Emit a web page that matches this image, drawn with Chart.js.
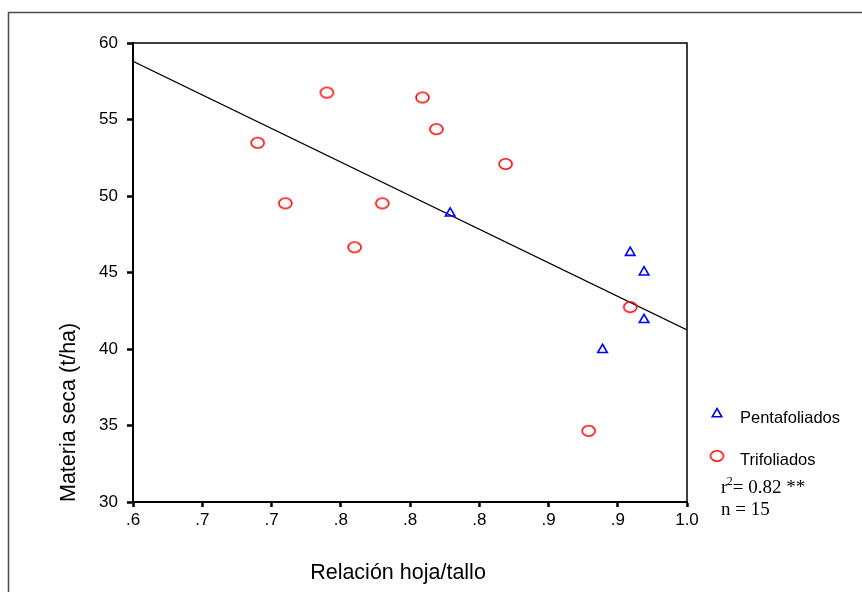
<!DOCTYPE html>
<html>
<head>
<meta charset="utf-8">
<script src="https://cdn.jsdelivr.net/npm/chart.js@4/dist/chart.umd.min.js"></script>
<style>
  html, body { margin: 0; padding: 0; background: #fff; }
</style>
</head>
<body>
<canvas id="myChart" width="862" height="592"></canvas>
<script>
// tick labels as printed on the x axis (.60 .65 ... 1.00 rounded to one decimal)
var xTickLabels = ['.6', '.7', '.7', '.8', '.8', '.8', '.9', '.9', '1.0'];

var pentaX = [0.829, 0.959, 0.969, 0.969, 0.939];
var pentaY = [48.87, 46.30, 45.02, 41.91, 39.95];

var trifX = [0.690, 0.710, 0.740, 0.760, 0.780, 0.809, 0.819, 0.869, 0.959, 0.929];
var trifY = [53.48, 49.52, 56.76, 46.65, 49.52, 56.44, 54.37, 52.09, 42.74, 34.65];

// fitted line end points
var regX = [0.6, 1.0];
var regY = [58.8, 41.25];

var seriesNames = ['Pentafoliados', 'Trifoliados'];
var xTitle = 'Relación hoja/tallo';

toPoints = (xs, ys) => xs.map((x, i) => ({x: x, y: ys[i]}));

// red "O" marker, a bit wider than tall
var ring = document.createElement('canvas');
ring.width = 17;
ring.height = 14;
var rc = ring.getContext('2d');
rc.strokeStyle = '#ff0000';
rc.lineWidth = 1.6;
rc.beginPath();
rc.ellipse(8.5, 7, 6.5, 5.2, 0, 0, Math.PI * 2);
rc.stroke();

var extras = {
  id: 'extras',
  beforeDraw: function (chart) {
    var c = chart.ctx;
    c.save();
    c.strokeStyle = '#4d4d4d';
    c.lineWidth = 1.5;
    c.strokeRect(8.5, 12.5, 900, 700);
    c.restore();
  },
  afterDraw: function (chart) {
    var c = chart.ctx;
    var a = chart.chartArea;
    c.save();
    // top and right sides of the plot box
    c.strokeStyle = '#000';
    c.lineWidth = 1.5;
    c.beginPath();
    c.moveTo(a.left, a.top);
    c.lineTo(a.right, a.top);
    c.lineTo(a.right, a.bottom);
    c.stroke();

    // x axis title, sits a little left of the plot centre
    c.fillStyle = '#000';
    c.font = '21.5px "Liberation Sans", Arial, sans-serif';
    c.textAlign = 'center';
    c.textBaseline = 'middle';
    c.fillText(xTitle, 398, 573);

    // legend
    c.strokeStyle = '#0000ff';
    c.fillStyle = 'rgba(0,0,0,0)';
    c.lineWidth = 1.6;
    Chart.helpers.drawPoint(c, {pointStyle: 'triangle', radius: 5.5, rotation: 0, borderWidth: 1.6}, 717, 414);
    c.drawImage(ring, 717 - ring.width / 2, 456 - ring.height / 2);

    c.fillStyle = '#000';
    c.font = '16.5px "Liberation Sans", Arial, sans-serif';
    c.textBaseline = 'middle';
    c.textAlign = 'left';
    c.fillText(seriesNames[0], 740, 418);
    c.fillText(seriesNames[1], 740, 460);

    // r squared and n
    c.textBaseline = 'alphabetic';
    var serif = '"Liberation Serif", "Times New Roman", serif';
    var x = 721;
    c.font = '19px ' + serif;
    c.fillText('r', x, 493);
    x += c.measureText('r').width;
    c.font = '12px ' + serif;
    c.fillText('2', x - 0.5, 485);
    x += c.measureText('2').width - 0.5;
    c.font = '19px ' + serif;
    c.fillText('= 0.82 **', x, 493);
    c.fillText('n = 15', 721, 515);
    c.restore();
  }
};

const ctx = document.getElementById('myChart');

var chart = new Chart(ctx, {
  type: 'scatter',
  data: {
    datasets: [{
      label: 'Ajuste',
      data: toPoints(regX, regY),
      showLine: true,
      borderColor: '#000',
      borderWidth: 1.2,
      pointRadius: 0,
      fill: false,
      order: 3
    }, {
      label: seriesNames[0],
      data: toPoints(pentaX, pentaY),
      pointStyle: 'triangle',
      pointRadius: 5.5,
      borderColor: '#0000ff',
      backgroundColor: 'rgba(0,0,0,0)',
      borderWidth: 1.6,
      order: 1
    }, {
      label: seriesNames[1],
      data: toPoints(trifX, trifY),
      pointStyle: ring,
      pointRadius: 7,
      borderColor: '#ff0000',
      backgroundColor: 'rgba(0,0,0,0)',
      order: 2
    }]
  },
  options: {
    responsive: false,
    animation: false,
    devicePixelRatio: 1,
    layout: {
      padding: {left: 0, top: 43, right: 175, bottom: 0}
    },
    plugins: {
      legend: {display: false},
      tooltip: {enabled: false}
    },
    scales: {
      x: {
        type: 'linear',
        min: 0.6,
        max: 1.0,
        afterFit: function (s) { s.height = 90; },
        ticks: {
          stepSize: 0.05,
          color: '#000',
          padding: 3,
          maxRotation: 0,
          font: {family: '"Liberation Sans", Arial, sans-serif', size: 17},
          callback: function (v, i) { return xTickLabels[i]; }
        },
        grid: {
          drawOnChartArea: false,
          tickLength: 5,
          tickWidth: 2.5,
          tickColor: '#000'
        },
        border: {display: true, color: '#000', width: 2}
      },
      y: {
        min: 30,
        max: 60,
        afterFit: function (s) { s.width = 133; },
        ticks: {
          stepSize: 5,
          color: '#000',
          padding: 9,
          font: {family: '"Liberation Sans", Arial, sans-serif', size: 17}
        },
        grid: {
          drawOnChartArea: false,
          tickLength: 6,
          tickWidth: 2.5,
          tickColor: '#000'
        },
        border: {display: true, color: '#000', width: 2},
        title: {
          display: true,
          text: 'Materia seca (t/ha)',
          align: 'start',
          color: '#000',
          font: {family: '"Liberation Sans", Arial, sans-serif', size: 21.5, weight: 'normal'},
          padding: {top: 56, bottom: 0}
        }
      }
    }
  },
  plugins: [extras]
});
</script>
</body>
</html>
